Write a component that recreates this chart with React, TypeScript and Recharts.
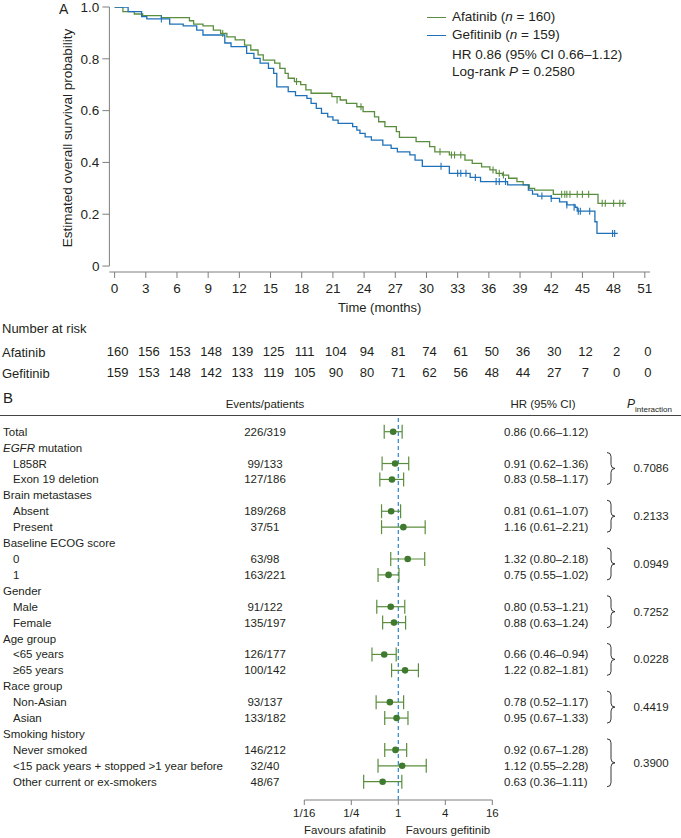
import React from "react";
import {
  ComposedChart,
  ErrorBar,
  Line,
  ReferenceLine,
  Scatter,
  XAxis,
  YAxis,
} from "recharts";

const FONT = '"Liberation Sans", Arial, Helvetica, sans-serif';
const TEXT = "#231f20";
const AXIS = "#7f7f7f";
const GREEN = "#5a8d3e";
const BLUE = "#1e71b8";
const DOT = "#3f7a2e";
const DASH = "#2c86c6";

// ---- panel A: Kaplan-Meier ----
const monthTicks = [0, 3, 6, 9, 12, 15, 18, 21, 24, 27, 30, 33, 36, 39, 42, 45, 48, 51];
const survivalTicks = [0, 0.2, 0.4, 0.6, 0.8, 1.0];

// [month, survival probability] at each step
const afatinibSteps = [
  [0, 1], [0.8, 0.982], [1.9, 0.973], [2.7, 0.967], [4.5, 0.959], [7.2, 0.947],
  [7.6, 0.934], [8.5, 0.927], [9.5, 0.911], [10.2, 0.898], [10.8, 0.885], [11.6, 0.873],
  [12.5, 0.853], [13.1, 0.834], [13.8, 0.815], [14.3, 0.795], [15.4, 0.783], [15.9, 0.763],
  [16.4, 0.744], [16.7, 0.725], [17.3, 0.712], [17.9, 0.7], [18.4, 0.68], [18.9, 0.667],
  [20.9, 0.654], [21.7, 0.641], [22.3, 0.628], [23.3, 0.615], [23.9, 0.596], [25.0, 0.576],
  [25.4, 0.557], [26.0, 0.538], [27.1, 0.519], [27.4, 0.497], [29.0, 0.48], [30.3, 0.461],
  [30.8, 0.441], [32.2, 0.429], [33.7, 0.409], [34.4, 0.396], [35.3, 0.383], [36.1, 0.371],
  [36.7, 0.358], [37.3, 0.351], [37.9, 0.339], [38.7, 0.326], [39.3, 0.313], [39.9, 0.3],
  [40.4, 0.293], [42.2, 0.277], [46.5, 0.242], [49.2, 0.242],
];
const gefitinibSteps = [
  [0, 1], [1.3, 0.982], [2.6, 0.963], [3.1, 0.954], [5.3, 0.934], [6.6, 0.927],
  [7.9, 0.911], [8.5, 0.892], [10.6, 0.861], [11.2, 0.847], [12.7, 0.821], [13.4, 0.802],
  [14.0, 0.783], [14.8, 0.763], [15.3, 0.744], [15.6, 0.692], [16.7, 0.673], [17.4, 0.658],
  [18.5, 0.647], [18.9, 0.628], [19.4, 0.609], [19.9, 0.589], [20.5, 0.576], [21.0, 0.563],
  [21.5, 0.551], [22.9, 0.538], [23.3, 0.525], [23.6, 0.512], [24.1, 0.499], [24.7, 0.486],
  [25.8, 0.467], [26.6, 0.454], [27.2, 0.441], [28.4, 0.429], [28.9, 0.409], [29.6, 0.385],
  [32.2, 0.358], [34.2, 0.342], [35.2, 0.326], [37.8, 0.313], [39.8, 0.293], [40.2, 0.278],
  [40.7, 0.27], [42.0, 0.261], [42.8, 0.248], [43.5, 0.236], [44.3, 0.227], [44.5, 0.212],
  [46.2, 0.171], [46.4, 0.126], [48.4, 0.126],
];
const afatinibCensored = [
  [10.4, 0.898], [17.5, 0.712], [21.4, 0.641], [23.7, 0.615], [31.3, 0.441], [32.4, 0.429],
  [32.7, 0.429], [33.3, 0.429], [36.4, 0.371], [37.0, 0.358], [37.4, 0.351], [43.0, 0.277],
  [43.3, 0.277], [43.5, 0.277], [43.8, 0.277], [44.5, 0.277], [45.0, 0.277], [45.6, 0.277],
  [46.9, 0.242], [47.2, 0.242], [48.0, 0.242], [48.6, 0.242], [48.9, 0.242],
];
const gefitinibCensored = [
  [4.5, 0.954], [31.4, 0.385], [33.0, 0.358], [33.3, 0.358], [33.8, 0.358], [34.7, 0.342],
  [36.7, 0.326], [37.0, 0.326], [37.6, 0.326], [41.1, 0.27], [42.0, 0.261], [43.5, 0.236],
  [44.2, 0.227], [44.6, 0.212], [44.8, 0.212], [45.7, 0.212], [47.9, 0.126], [48.1, 0.126],
];
const afatinibAtRisk = [160, 156, 153, 148, 139, 125, 111, 104, 94, 81, 74, 61, 50, 36, 30, 12, 2, 0];
const gefitinibAtRisk = [159, 153, 148, 142, 133, 119, 105, 90, 80, 71, 62, 56, 48, 44, 27, 7, 0, 0];

// ---- panel B: forest plot ----
const rowLabels = [
  "Total", "EGFR mutation", "L858R", "Exon 19 deletion", "Brain metastases", "Absent",
  "Present", "Baseline ECOG score", "0", "1", "Gender", "Male", "Female", "Age group",
  "<65 years", "≥65 years", "Race group", "Non-Asian", "Asian", "Smoking history",
  "Never smoked", "<15 pack years + stopped >1 year before", "Other current or ex-smokers",
];
const eventCounts = [
  "226/319", null, "99/133", "127/186", null, "189/268", "37/51", null, "63/98", "163/221",
  null, "91/122", "135/197", null, "126/177", "100/142", null, "93/137", "133/182", null,
  "146/212", "32/40", "48/67",
];
const hazardRatios = [
  0.86, null, 0.91, 0.83, null, 0.81, 1.16, null, 1.32, 0.75, null, 0.8, 0.88, null, 0.66,
  1.22, null, 0.78, 0.95, null, 0.92, 1.12, 0.63,
];
const ciLower = [
  0.66, null, 0.62, 0.58, null, 0.61, 0.61, null, 0.8, 0.55, null, 0.53, 0.63, null, 0.46,
  0.82, null, 0.52, 0.67, null, 0.67, 0.55, 0.36,
];
const ciUpper = [
  1.12, null, 1.36, 1.17, null, 1.07, 2.21, null, 2.18, 1.02, null, 1.21, 1.24, null, 0.94,
  1.81, null, 1.17, 1.33, null, 1.28, 2.28, 1.11,
];
const groupStart = [2, 5, 8, 11, 14, 17, 20];
const groupSize = [2, 2, 2, 2, 2, 2, 3];
const interactionP = ["0.7086", "0.2133", "0.0949", "0.7252", "0.0228", "0.4419", "0.3900"];
const hrTicks = [1 / 16, 1 / 4, 1, 4, 16];
const hrTickLabels = ["1/16", "1/4", "1", "4", "16"];

const toPoints = (rows: number[][]) => rows.map(([t, s]) => ({ t, s }));
const afatinibData = toPoints(afatinibSteps);
const gefitinibData = toPoints(gefitinibSteps);
const afatinibCensorData = toPoints(afatinibCensored);
const gefitinibCensorData = toPoints(gefitinibCensored);
// placeholder rows so the at-risk axes have a series bound to them
const riskAnchor = monthTicks.map((t) => ({ t }));

const forestPoints = hazardRatios
  .map((hr, i) =>
    hr == null
      ? null
      : { row: i, hr, ci: [hr - (ciLower[i] as number), (ciUpper[i] as number) - hr] },
  )
  .filter(Boolean);

const Y_MIN = -1.05;
const Y_MAX = 23.15;
const FOREST_TOP = 20;
const FOREST_PLOT_H = 385;
const ROW_STEP = FOREST_PLOT_H / (Y_MAX - Y_MIN);

const censorShape = (color: string) => (props: any) => {
  const { cx, cy } = props;
  return <line x1={cx} x2={cx} y1={cy - 3.5} y2={cy + 3.5} stroke={color} strokeWidth={1.1} />;
};

const RowTick = (props: any) => {
  const { y, payload } = props;
  const i = payload.value as number;
  const label = rowLabels[i];
  const ev = eventCounts[i];
  const hr = hazardRatios[i];
  const indent = i > 0 && ev != null;
  const g = groupStart.indexOf(i);
  let brace = null;
  if (g >= 0) {
    const x0 = 607;
    const mid = y + ((groupSize[g] - 1) / 2) * ROW_STEP - 3;
    const h = ((groupSize[g] - 1) / 2) * ROW_STEP + 8;
    const d = `M${x0},${mid - h} Q${x0 + 4},${mid - h} ${x0 + 4},${mid - h + 4} L${x0 + 4},${mid - 4} Q${x0 + 4},${mid} ${x0 + 8},${mid} Q${x0 + 4},${mid} ${x0 + 4},${mid + 4} L${x0 + 4},${mid + h - 4} Q${x0 + 4},${mid + h} ${x0},${mid + h}`;
    brace = (
      <g>
        <path d={d} fill="none" stroke={TEXT} strokeWidth={0.9} />
        <text x={651} y={mid + 4} textAnchor="middle" fontSize={11.5} fill={TEXT}>
          {interactionP[g]}
        </text>
      </g>
    );
  }
  return (
    <g>
      <text x={indent ? 13 : 3} y={y + 4} fontSize={11.5} fill={TEXT}>
        {label === "EGFR mutation" ? (
          <>
            <tspan fontStyle="italic">EGFR</tspan> mutation
          </>
        ) : (
          label
        )}
      </text>
      {ev && (
        <text x={265} y={y + 4} textAnchor="middle" fontSize={11.5} fill={TEXT}>
          {ev}
        </text>
      )}
      {hr != null && (
        <text x={504} y={y + 4} fontSize={11.5} fill={TEXT}>
          {`${hr.toFixed(2)} (${(ciLower[i] as number).toFixed(2)}–${(ciUpper[i] as number).toFixed(2)})`}
        </text>
      )}
      {brace}
    </g>
  );
};

const Txt = ({
  x,
  cy,
  size = 13,
  anchor = "start",
  children,
}: {
  x: number;
  cy: number;
  size?: number;
  anchor?: "start" | "middle";
  children: React.ReactNode;
}) => (
  <div
    style={{
      position: "absolute",
      left: x,
      top: cy - size * 0.49,
      fontSize: size,
      lineHeight: 1,
      whiteSpace: "nowrap",
      color: TEXT,
      transform: anchor === "middle" ? "translateX(-50%)" : undefined,
    }}
  >
    {children}
  </div>
);

export default function App() {
  return (
    <div
      style={{
        position: "absolute",
        left: 0,
        top: 0,
        width: 681,
        height: 838,
        background: "#fff",
        fontFamily: FONT,
        overflow: "hidden",
      }}
    >
      {/* Panel A */}
      <div style={{ position: "absolute", left: 0, top: 0 }}>
        <ComposedChart width={681} height={385} margin={{ top: 7, right: 31, bottom: 0, left: 0 }}>
          <XAxis
            dataKey="t"
            type="number"
            domain={[-0.5, 51.5]}
            allowDataOverflow
            ticks={monthTicks}
            interval={0}
            height={45}
            tickSize={6}
            tickMargin={5}
            stroke={AXIS}
            tick={{ fill: TEXT, fontSize: 13.5 }}
            label={{ value: "Time (months)", position: "insideBottom", offset: 5, fill: TEXT, fontSize: 13 }}
          />
          <XAxis
            xAxisId="afa"
            dataKey="t"
            type="number"
            domain={[-0.5, 51.5]}
            allowDataOverflow
            ticks={monthTicks}
            interval={0}
            height={40}
            axisLine={false}
            tickLine={false}
            tickSize={0}
            tickMargin={30}
            tick={{ fill: TEXT, fontSize: 13, dx: 3 }}
            tickFormatter={(v: number) => String(afatinibAtRisk[monthTicks.indexOf(v)])}
          />
          <XAxis
            xAxisId="gef"
            dataKey="t"
            type="number"
            domain={[-0.5, 51.5]}
            allowDataOverflow
            ticks={monthTicks}
            interval={0}
            height={28}
            axisLine={false}
            tickLine={false}
            tickSize={0}
            tickMargin={11}
            tick={{ fill: TEXT, fontSize: 13, dx: 3 }}
            tickFormatter={(v: number) => String(gefitinibAtRisk[monthTicks.indexOf(v)])}
          />
          <YAxis
            type="number"
            domain={[-0.023, 1]}
            allowDataOverflow
            ticks={survivalTicks}
            interval={0}
            width={109.4}
            axisLine={false}
            tickSize={7}
            tickMargin={3}
            stroke={AXIS}
            tick={{ fill: TEXT, fontSize: 13.5 }}
            tickFormatter={(v: number) => (v === 0 ? "0" : v.toFixed(1))}
          />
          <ReferenceLine
            segment={[
              { x: -0.5, y: 0 },
              { x: -0.5, y: 1 },
            ]}
            stroke={AXIS}
            ifOverflow="visible"
          />
          <Line
            xAxisId="afa"
            data={riskAnchor}
            dataKey="none"
            stroke="none"
            dot={false}
            activeDot={false}
            legendType="none"
            isAnimationActive={false}
          />
          <Line
            xAxisId="gef"
            data={riskAnchor}
            dataKey="none"
            stroke="none"
            dot={false}
            activeDot={false}
            legendType="none"
            isAnimationActive={false}
          />
          <Line
            data={afatinibData}
            dataKey="s"
            type="stepAfter"
            stroke={GREEN}
            strokeWidth={1.3}
            dot={false}
            isAnimationActive={false}
          />
          <Line
            data={gefitinibData}
            dataKey="s"
            type="stepAfter"
            stroke={BLUE}
            strokeWidth={1.3}
            dot={false}
            isAnimationActive={false}
          />
          <Scatter data={afatinibCensorData} dataKey="s" shape={censorShape(GREEN)} isAnimationActive={false} />
          <Scatter data={gefitinibCensorData} dataKey="s" shape={censorShape(BLUE)} isAnimationActive={false} />
        </ComposedChart>
      </div>

      <Txt x={59} cy={9} size={14}>A</Txt>
      <div
        style={{
          position: "absolute",
          left: 67,
          top: 138,
          transform: "translate(-50%, -50%) rotate(-90deg)",
          fontSize: 13.5,
          whiteSpace: "nowrap",
          color: TEXT,
        }}
      >
        Estimated overall survival probability
      </div>

      {/* legend */}
      <div style={{ position: "absolute", left: 427, top: 17, width: 19, height: 1.4, background: GREEN }} />
      <div style={{ position: "absolute", left: 427, top: 35, width: 19, height: 1.4, background: BLUE }} />
      <Txt x={452} cy={17} size={13.5}>
        Afatinib (<i>n</i> = 160)
      </Txt>
      <Txt x={452} cy={35} size={13.5}>
        Gefitinib (<i>n</i> = 159)
      </Txt>
      <Txt x={452} cy={55} size={13.5}>HR 0.86 (95% CI 0.66–1.12)</Txt>
      <Txt x={452} cy={72} size={13.5}>
        Log-rank <i>P</i> = 0.2580
      </Txt>

      <Txt x={2} cy={328}>Number at risk</Txt>
      <Txt x={2} cy={352}>Afatinib</Txt>
      <Txt x={2} cy={373}>Gefitinib</Txt>

      {/* Panel B */}
      <div style={{ position: "absolute", left: 0, top: 395 }}>
        <ComposedChart
          width={681}
          height={443}
          margin={{ top: FOREST_TOP, right: 188.7, bottom: 0, left: 4.3 }}
        >
          <XAxis
            dataKey="hr"
            type="number"
            scale="log"
            domain={[1 / 16, 16]}
            allowDataOverflow
            ticks={hrTicks}
            interval={0}
            height={38}
            tickSize={5}
            tickMargin={4}
            stroke={AXIS}
            tick={{ fill: TEXT, fontSize: 11.5 }}
            tickFormatter={(v: number) => hrTickLabels[hrTicks.indexOf(v)]}
          />
          <YAxis
            dataKey="row"
            type="number"
            domain={[Y_MIN, Y_MAX]}
            allowDataOverflow
            reversed
            ticks={rowLabels.map((_, i) => i)}
            interval={0}
            width={300}
            axisLine={false}
            tickLine={false}
            tick={<RowTick />}
          />
          <ReferenceLine x={1} stroke={DASH} strokeWidth={1.2} strokeDasharray="4 3" />
          <Scatter
            data={forestPoints as any[]}
            dataKey="hr"
            fill={DOT}
            isAnimationActive={false}
            shape={(p: any) => <circle cx={p.cx} cy={p.cy} r={3.3} fill={DOT} />}
          >
            <ErrorBar dataKey="ci" direction="x" width={7} stroke={GREEN} strokeWidth={1.2} />
          </Scatter>
        </ComposedChart>
      </div>

      <Txt x={3} cy={397} size={15}>B</Txt>
      <Txt x={265} cy={405} size={11.5} anchor="middle">Events/patients</Txt>
      <Txt x={543} cy={405} size={11.5} anchor="middle">HR (95% CI)</Txt>
      <div style={{ position: "absolute", left: 627, top: 397, fontSize: 12, color: TEXT, whiteSpace: "nowrap" }}>
        <i>P</i>
        <span style={{ fontSize: 8, position: "relative", top: 4 }}>interaction</span>
      </div>
      <div style={{ position: "absolute", left: 0, top: 415, width: 681, height: 1, background: "#444" }} />
      <Txt x={345} cy={831} size={11.5} anchor="middle">Favours afatinib</Txt>
      <Txt x={448} cy={831} size={11.5} anchor="middle">Favours gefitinib</Txt>
    </div>
  );
}
